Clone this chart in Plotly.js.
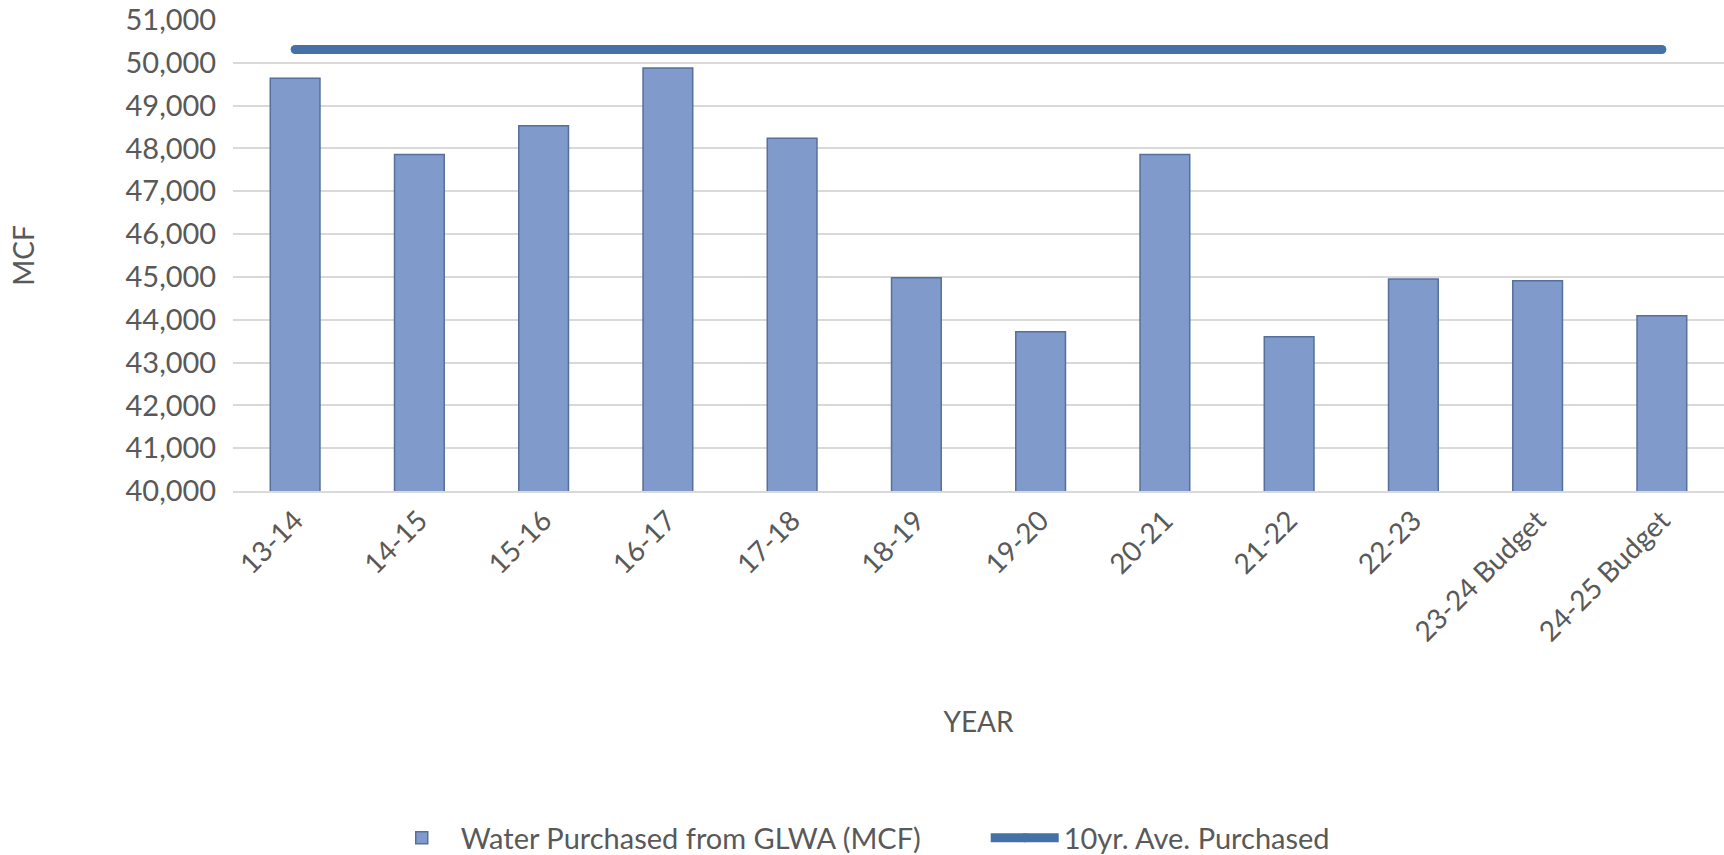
<!DOCTYPE html>
<html>
<head>
<meta charset="utf-8">
<script src="https://cdn.plot.ly/plotly-3.0.1.min.js"></script>
<style>
  html, body { margin: 0; padding: 0; background: #ffffff; }
  #chart { width: 1724px; height: 855px; }
</style>
</head>
<body>
<div id="chart"></div>
<script>
const years = ["13-14", "14-15", "15-16", "16-17", "17-18", "18-19", "19-20", "20-21", "21-22", "22-23", "23-24 Budget", "24-25 Budget"];
const purchased = [49640, 47860, 48530, 49880, 48240, 44980, 43720, 47860, 43600, 44950, 44910, 44090];
const tenYearAvg = [50310, 50310, 50310, 50310, 50310, 50310, 50310, 50310, 50310, 50310, 50310, 50310];

const FONT = "Lato, 'Open Sans', sans-serif";
const TXT = "#595959";

const traces = [
  {
    type: "bar",
    name: "Water Purchased from GLWA (MCF)",
    x: years,
    y: purchased,
    marker: { color: "#7f9acb", line: { color: "#55709b", width: 1.5 } },
    hoverinfo: "x+y"
  },
  {
    type: "scatter",
    mode: "lines+markers",
    name: "10yr. Ave. Purchased",
    x: years,
    y: tenYearAvg,
    line: { color: "#4472a6", width: 9 },
    marker: { color: "#4472a6", size: 9 },
    hoverinfo: "x+y"
  }
];

const layout = {
  width: 1724,
  height: 855,
  margin: { l: 233, r: 0, t: 20, b: 364 },
  paper_bgcolor: "#ffffff",
  plot_bgcolor: "#ffffff",
  font: { family: FONT, size: 28, color: TXT },
  bargap: 0.6,
  showlegend: true,
  legend: {
    orientation: "h",
    xref: "container",
    yref: "container",
    x: 0.222,
    xanchor: "left",
    y: 0.02,
    yanchor: "middle",
    font: { family: FONT, size: 29, color: TXT },
    traceorder: "normal",
    itemwidth: 68,
    entrywidth: 520,
    entrywidthmode: "pixels"
  },
  xaxis: {
    type: "category",
    range: [-0.5, 11.5],
    tickangle: -45,
    showgrid: false,
    showline: true,
    linecolor: "#d9d9d9",
    linewidth: 2,
    ticks: "",
    tickfont: { family: FONT, size: 28, color: TXT },
    title: { text: "YEAR", font: { family: FONT, size: 28, color: TXT }, standoff: 66 },
    automargin: false
  },
  yaxis: {
    range: [40000, 51000],
    dtick: 1000,
    tick0: 40000,
    tickformat: ",",
    showgrid: true,
    gridcolor: "#d9d9d9",
    gridwidth: 2,
    zeroline: false,
    showline: false,
    ticks: "outside",
    ticklen: 10,
    tickcolor: "rgba(0,0,0,0)",
    tickfont: { family: FONT, size: 29, color: TXT },
    title: { text: "MCF", font: { family: FONT, size: 28, color: TXT }, standoff: 82 },
    automargin: false
  }
};

Plotly.newPlot("chart", traces, layout, { displayModeBar: false, staticPlot: true });
</script>
</body>
</html>
